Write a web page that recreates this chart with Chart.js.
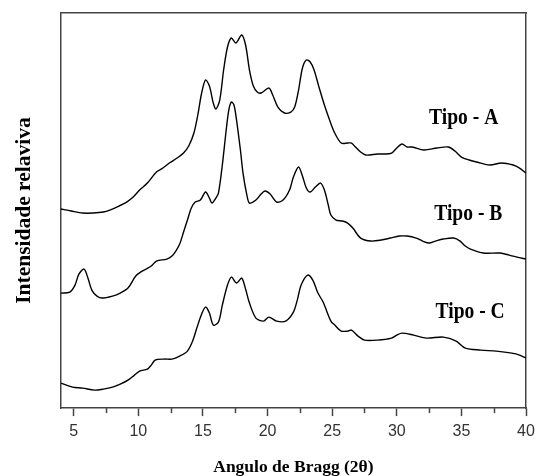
<!DOCTYPE html>
<html>
<head>
<meta charset="utf-8">
<script src="https://cdn.jsdelivr.net/npm/chart.js@4.4.1/dist/chart.umd.min.js"></script>
<style>
    html, body { margin: 0; padding: 0; background: #fff; }
</style>
</head>
<body>
<canvas id="chart" width="536" height="476"></canvas>
<script>
'use strict'

// 2-theta positions (deg) and relative intensity
let tipoA_x = [4.0, 4.8, 5.7, 6.5, 7.3, 7.8, 8.5, 9.1, 9.6, 10.1, 10.7, 11.4, 11.9, 12.4, 13.0, 13.5, 13.9, 14.3, 14.6, 14.9,
    15.2, 15.5, 15.8, 16.0, 16.3, 16.6, 16.9, 17.2, 17.55, 18.0, 18.3, 18.6, 18.9, 19.2, 19.5, 20.1, 20.4, 20.8, 21.3, 21.8,
    22.1, 22.4, 22.7, 23.0, 23.3, 23.6, 24.0, 24.4, 24.8, 25.2, 25.7, 26.2, 26.5, 26.8, 27.2, 27.6, 28.5, 29.0, 29.6, 30.0,
    30.4, 30.8, 31.2, 32.1, 33.1, 34.0, 34.5, 35.0, 35.6, 36.2, 37.2, 38.1, 39.0, 39.5, 40.0];
let tipoA_y = [199, 197, 195, 195, 196, 198, 202, 206, 211, 218, 225, 236, 240, 245, 250, 255, 262, 275, 293, 315,
    328, 322, 305, 299, 308, 338, 361, 370, 365, 373, 363, 338, 322, 316, 315, 320, 313, 301, 295, 296,
    301, 318, 340, 348, 346, 338, 320, 303, 288, 275, 265, 265, 265, 261, 256, 253, 254, 254, 255, 260,
    264, 261, 261, 258, 260, 261, 257, 251, 248, 246, 243, 245, 243, 240, 235];

let tipoB_x = [4.0, 4.7, 5.1, 5.4, 5.8, 6.1, 6.4, 6.8, 7.2, 8.0, 8.6, 9.2, 9.8, 10.3, 10.6, 11.0, 11.4, 12.2, 12.6, 12.9,
    13.2, 13.5, 13.8, 14.1, 14.4, 14.8, 15.2, 15.5, 15.7, 16.0, 16.2, 16.5, 16.8, 17.0, 17.2, 17.4, 17.6, 17.9, 18.1, 18.4,
    18.6, 19.1, 19.5, 19.8, 20.2, 20.7, 21.2, 21.7, 22.0, 22.4, 22.7, 23.0, 23.3, 23.7, 24.1, 24.4, 24.7, 24.9, 25.3, 25.8,
    26.2, 26.6, 27.2, 28.0, 28.8, 29.5, 30.2, 30.8, 31.5, 32.0, 32.5, 33.0, 33.6, 34.4, 34.9, 35.3, 35.7, 36.7, 38.0, 38.7,
    39.3, 40.0];
let tipoB_y = [115, 116, 123, 134, 139, 130, 118, 112, 110, 112, 115, 120, 132, 137, 139, 142, 147, 149, 152, 157,
    164, 176, 188, 200, 206, 208, 216, 210, 205, 210, 215, 243, 278, 298, 306, 303, 288, 258, 235, 213,
    205, 208, 214, 217, 214, 206, 208, 218, 231, 241, 232, 220, 216, 221, 225, 218, 203, 193, 188, 187,
    185, 180, 170, 167, 168, 170, 172, 172, 170, 167, 165, 167, 169, 170, 167, 162, 159, 155, 155, 153,
    151, 149];

let tipoC_x = [4.0, 4.9, 5.7, 6.6, 7.3, 8.0, 8.6, 9.2, 9.7, 10.1, 10.7, 11.0, 11.3, 12.0, 12.6, 13.2, 13.8, 14.2, 14.5, 14.9,
    15.2, 15.5, 15.8, 16.2, 16.5, 16.9, 17.2, 17.6, 18.0, 18.3, 18.6, 19.1, 19.7, 20.1, 20.7, 21.4, 22.0, 22.3, 22.6, 23.1,
    23.5, 23.9, 24.3, 24.9, 25.2, 25.7, 26.2, 26.5, 27.0, 27.5, 28.5, 29.6, 30.0, 30.4, 31.3, 32.3, 33.6, 34.6, 35.3, 36.5,
    37.7, 38.9, 39.5, 40.0];
let tipoC_y = [25, 21, 20, 18, 19, 21, 24, 28, 33, 37, 39, 43, 48, 49, 49, 52, 57, 67, 79, 94,
    101, 95, 83, 86, 103, 123, 131, 125, 130, 119, 105, 90, 87, 91, 87, 87, 96, 108, 123, 133,
    128, 115, 106, 87, 83, 77, 77, 78, 72, 68, 68, 70, 73, 75, 73, 70, 71, 67, 60, 58,
    57, 55, 53, 50];

let xTicks = [5, 10, 15, 20, 25, 30, 35, 40];
let xMinorTicks = [7.5, 12.5, 17.5, 22.5, 27.5, 32.5, 37.5];

let seriesNames = ['Tipo - A', 'Tipo - B', 'Tipo - C'];
// where each name is written, in chart units (2theta, intensity)
let nameAnchors = [[32.5, 284], [32.9, 188], [33.0, 90]];

const AXIS_COLOR = '#444';

function toPoints(xs, ys) {
    return xs.map((x, i) => ({ x: x, y: ys[i] }));
}

function lineDataset(label, xs, ys) {
    return {
        label: label,
        data: toPoints(xs, ys),
        borderColor: '#000',
        borderWidth: 1.4,
        pointRadius: 0,
        tension: 0.3,
        fill: false
    };
}

// short minor ticks between the labelled ones
const minorTicks = {
    id: 'minorTicks',
    afterDraw(chart) {
        let ctx = chart.ctx;
        let xs = chart.scales.x;
        let bottom = chart.chartArea.bottom;
        ctx.save();
        ctx.strokeStyle = AXIS_COLOR;
        ctx.lineWidth = 1.5;
        xMinorTicks.forEach(v => {
            let px = Math.round(xs.getPixelForValue(v)) + 0.5;
            ctx.beginPath();
            ctx.moveTo(px, bottom);
            ctx.lineTo(px, bottom + 5);
            ctx.stroke();
        });
        ctx.restore();
    }
};

// curve names, drawn in a narrow bold serif like the original
const seriesLabels = {
    id: 'seriesLabels',
    afterDatasetsDraw(chart) {
        let ctx = chart.ctx;
        ctx.save();
        ctx.fillStyle = '#000';
        ctx.font = 'bold 23px "Liberation Serif"';
        ctx.textAlign = 'left';
        ctx.textBaseline = 'alphabetic';
        seriesNames.forEach((name, i) => {
            let px = chart.scales.x.getPixelForValue(nameAnchors[i][0]);
            let py = chart.scales.y.getPixelForValue(nameAnchors[i][1]);
            ctx.save();
            ctx.translate(px, py);
            ctx.scale(0.85, 1);
            ctx.fillText(name, 0, 0);
            ctx.restore();
        });
        ctx.restore();
    }
};

const hiddenScale = {
    type: 'linear',
    display: true,
    ticks: { display: false },
    grid: { drawOnChartArea: false, drawTicks: false },
    border: { display: true, color: AXIS_COLOR, width: 1.5 }
};

window.onload = function () {
    new Chart(document.getElementById('chart'), {
        type: 'line',
        data: {
            datasets: [
                lineDataset(seriesNames[0], tipoA_x, tipoA_y),
                lineDataset(seriesNames[1], tipoB_x, tipoB_y),
                lineDataset(seriesNames[2], tipoC_x, tipoC_y)
            ]
        },
        options: {
            responsive: false,
            animation: false,
            devicePixelRatio: 1,
            layout: { padding: { left: 8, top: 13, right: 10, bottom: 0 } },
            plugins: {
                legend: { display: false },
                tooltip: { enabled: false }
            },
            scales: {
                x: {
                    type: 'linear',
                    position: 'bottom',
                    min: 4,
                    max: 40,
                    afterBuildTicks: axis => { axis.ticks = xTicks.map(v => ({ value: v })); },
                    grid: { drawOnChartArea: false, drawTicks: true, tickLength: 8, tickColor: AXIS_COLOR, tickWidth: 1.5 },
                    border: { color: AXIS_COLOR, width: 1.5 },
                    ticks: {
                        color: '#333',
                        padding: 0,
                        maxRotation: 0,
                        font: { family: '"Liberation Sans", Arial, sans-serif', size: 16, lineHeight: 1.9 }
                    },
                    title: {
                        display: true,
                        text: 'Angulo de Bragg (2θ)',
                        color: '#000',
                        padding: { top: 12, bottom: 0 },
                        font: { family: '"Liberation Serif", serif', size: 17.5, weight: 'bold', lineHeight: 1 }
                    }
                },
                xTop: Object.assign({}, hiddenScale, { position: 'top', min: 4, max: 40 }),
                y: {
                    type: 'linear',
                    position: 'left',
                    min: 0,
                    max: 395,
                    ticks: { display: false },
                    grid: { drawOnChartArea: false, drawTicks: false },
                    border: { color: AXIS_COLOR, width: 1.5 },
                    title: {
                        display: true,
                        text: 'Intensidade relaviva',
                        color: '#000',
                        padding: { top: 4, bottom: 23 },
                        font: { family: '"Liberation Serif", serif', size: 21.5, weight: 'bold', lineHeight: 1.2 }
                    }
                },
                yRight: Object.assign({}, hiddenScale, { position: 'right', min: 0, max: 395 })
            }
        },
        plugins: [minorTicks, seriesLabels]
    });
}
</script>
</body>
</html>
